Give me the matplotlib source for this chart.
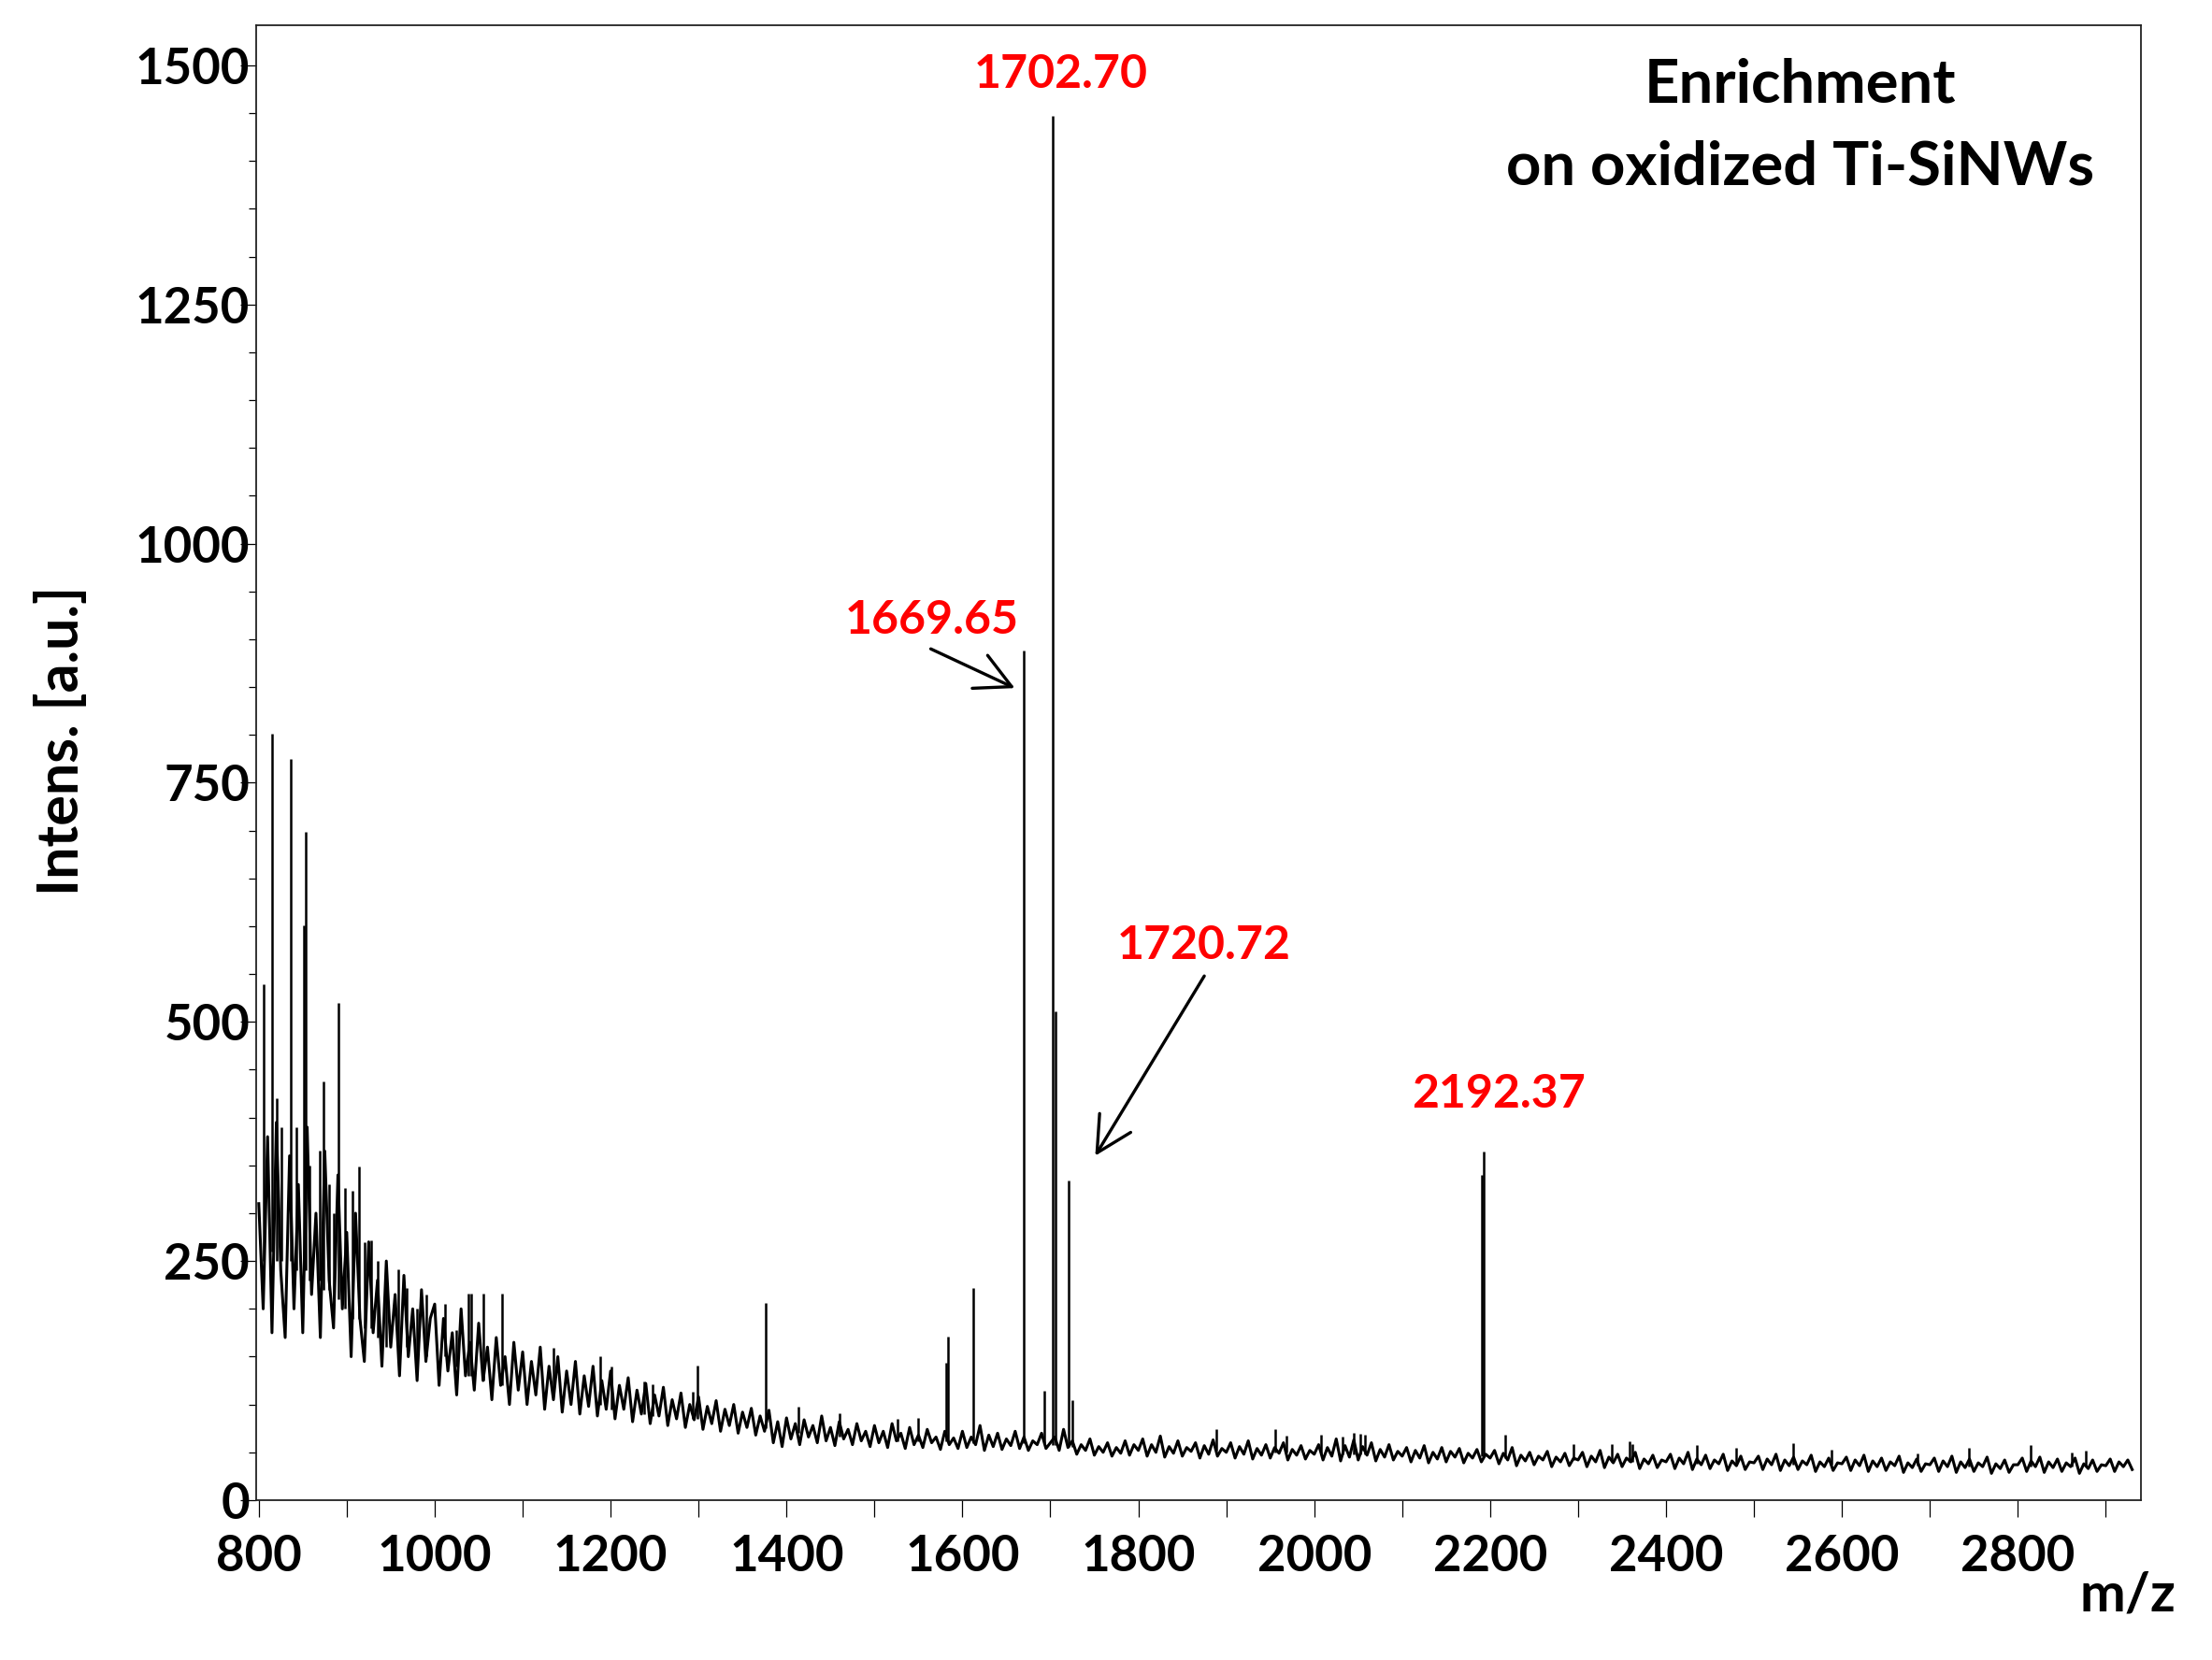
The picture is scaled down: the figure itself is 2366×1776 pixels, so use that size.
import numpy as np
import matplotlib
matplotlib.use('Agg')
import matplotlib.pyplot as plt
from matplotlib.ticker import MultipleLocator

plt.rcParams['font.family'] = ['Lato', 'DejaVu Sans']
plt.rcParams['font.weight'] = 'bold'

# spectrum trace, one value every 5 m/z from 800 to 2930
mz_start = 800
mz_step = 5
intens = [
    # 800-895
    310, 200, 380, 175, 395, 240, 170, 360, 200, 330, 175, 390, 215, 300, 170, 365, 230, 180, 340, 200,
    # 900-995
    280, 150, 300, 190, 145, 270, 175, 230, 140, 250, 160, 215, 130, 235, 150, 200, 125, 220, 145, 190,
    # 1000-1095
    205, 120, 190, 135, 175, 110, 200, 130, 165, 115, 185, 125, 160, 105, 170, 120, 150, 100, 165, 115,
    # 1100-1195
    155, 100, 145, 110, 160, 95, 140, 105, 150, 92, 135, 100, 145, 90, 130, 98, 140, 88, 125, 95,
    # 1200-1295
    135, 85, 120, 95, 128, 82, 115, 90, 122, 80, 110, 88, 118, 78, 105, 85, 112, 76, 100, 84,
    # 1300-1395
    108, 74, 98, 80, 104, 72, 95, 78, 100, 70, 92, 76, 96, 68, 88, 72, 94, 60, 82, 56,
    # 1400-1495
    86, 64, 80, 58, 84, 66, 78, 60, 88, 62, 76, 57, 82, 64, 74, 58, 80, 62, 72, 56,
    # 1500-1595
    78, 60, 72, 55, 80, 62, 70, 54, 76, 58, 68, 55, 74, 60, 66, 53, 72, 58, 65, 54,
    # 1600-1695
    72, 55, 66, 58, 78, 52, 68, 56, 70, 53, 64, 57, 72, 54, 66, 52, 62, 58, 70, 54,
    # 1700-1795
    60, 66, 52, 74, 55, 62, 48, 58, 52, 64, 47, 56, 50, 60, 46, 55, 49, 62, 47, 58,
    # 1800-1895
    52, 64, 46, 58, 50, 67, 45, 56, 49, 62, 46, 55, 51, 60, 44, 57, 48, 63, 46, 54,
    # 1900-1995
    50, 60, 44, 56, 48, 62, 43, 54, 47, 58, 44, 55, 49, 60, 42, 53, 47, 57, 43, 52,
    # 2000-2095
    48, 58, 42, 55, 46, 64, 41, 57, 45, 63, 42, 56, 47, 60, 41, 53, 45, 58, 42, 51,
    # 2100-2195
    46, 55, 40, 52, 44, 57, 39, 50, 43, 55, 40, 51, 45, 54, 39, 49, 44, 53, 40, 48,
    # 2200-2295
    44, 52, 38, 49, 42, 55, 36, 47, 41, 50, 37, 46, 42, 51, 35, 45, 40, 49, 36, 44,
    # 2300-2395
    42, 50, 35, 46, 40, 52, 34, 45, 39, 48, 35, 44, 40, 50, 33, 43, 38, 47, 34, 42,
    # 2400-2495
    40, 48, 33, 44, 38, 50, 32, 43, 37, 47, 33, 42, 38, 48, 31, 41, 36, 46, 32, 40,
    # 2500-2595
    39, 46, 32, 43, 37, 48, 31, 42, 36, 45, 32, 41, 37, 47, 30, 40, 35, 44, 31, 39,
    # 2600-2695
    38, 45, 31, 42, 36, 47, 30, 41, 35, 44, 31, 40, 36, 46, 29, 39, 34, 43, 30, 38,
    # 2700-2795
    37, 44, 30, 41, 35, 46, 29, 40, 34, 43, 30, 39, 35, 45, 28, 38, 33, 42, 29, 37,
    # 2800-2895
    37, 44, 30, 41, 35, 45, 29, 40, 34, 43, 30, 39, 35, 44, 28, 38, 33, 42, 30, 37,
    # 2900-2930
    36, 43, 30, 40, 35, 42, 32,
]

# narrow peaks: position, top, local base
peak_mz = [806, 815, 820, 826, 836, 843, 851, 853, 858, 869, 874, 880, 885, 891, 898, 906, 914,
           920, 928, 935, 945, 959, 968, 980, 990,
           1012, 1024, 1038, 1042, 1055, 1077, 1135, 1188, 1201, 1238, 1248, 1293, 1299,
           1376, 1414, 1460, 1526, 1550, 1581, 1584, 1612,
           1669.65, 1693, 1702.70, 1705.5, 1720.72, 1725,
           1889, 1956, 1968, 2008, 2032, 2045, 2052, 2058, 2190.5, 2192.37,
           2217, 2295, 2338, 2358, 2362, 2435, 2480, 2545, 2588, 2686, 2744, 2815, 2861, 2877]
peak_top = [539, 801, 420, 390, 775, 390, 601, 699, 350, 365, 438, 330, 300, 520, 326, 323, 349,
            270, 272, 250, 220, 241, 222, 200, 215,
            205, 178, 216, 216, 216, 216, 159, 150, 140, 124, 121, 113, 141,
            206, 98, 91, 85, 86, 144, 171, 222,
            888, 114, 1447, 511, 334, 105,
            74, 74, 67, 68, 66, 70, 69, 68, 340, 364,
            68, 59, 59, 62, 59, 58, 55, 60, 53, 49, 55, 58, 50, 52]
peak_base = [250, 260, 250, 250, 250, 240, 240, 240, 230, 230, 220, 220, 210, 210, 200, 190, 190,
             180, 180, 170, 160, 160, 160, 150, 150,
             150, 140, 130, 130, 125, 120, 110, 100, 95, 90, 88, 85, 85,
             75, 70, 66, 62, 62, 62, 62, 60,
             60, 60, 58, 58, 56, 56,
             52, 50, 50, 48, 48, 48, 48, 48, 46, 46,
             44, 42, 40, 40, 40, 38, 38, 37, 37, 36, 35, 35, 35, 35]

labels = ['1702.70', '1669.65', '1720.72', '2192.37']
label_x = [1712, 1565, 1875, 2210]
label_y = [1491, 920, 580, 425]
arrow_tail = [(1564, 890), (1875, 548)]
arrow_head = [(1659.5, 849), (1751, 360)]

mz = mz_start + mz_step * np.arange(len(intens))

fig = plt.figure(figsize=(23.66, 17.76), dpi=100)
ax = fig.add_axes([0.1158, 0.0963, 0.8521, 0.8885])

ax.plot(mz, intens, color='black', lw=2.2)
ax.vlines(peak_mz, peak_base, peak_top, color='black', lw=1.8)

ax.set_xlim(797, 2940)
ax.set_ylim(0, 1542)
ax.xaxis.set_major_locator(MultipleLocator(200))
ax.xaxis.set_minor_locator(MultipleLocator(100))
ax.yaxis.set_major_locator(MultipleLocator(250))
ax.yaxis.set_minor_locator(MultipleLocator(50))

ax.tick_params(axis='x', which='both', direction='out', length=13, width=0.9,
               labelsize=38, pad=13)
ax.tick_params(axis='y', which='major', direction='out', length=12, width=0.9,
               labelsize=38, pad=-7)
ax.tick_params(axis='y', which='minor', direction='out', length=6, width=0.9)
for lab in ax.get_xticklabels() + ax.get_yticklabels():
    lab.set_fontweight('bold')
for s in ax.spines.values():
    s.set_linewidth(1.3)
    s.set_color('#222222')

ax.set_ylabel('Intens. [a.u.]', fontsize=44, fontweight='bold')
ax.yaxis.set_label_coords(-0.0893, 0.515)
fig.text(0.962, 0.039, 'm/z', fontsize=42, fontweight='bold', ha='center', va='center')

ax.text(0.819, 0.9594, 'Enrichment', transform=ax.transAxes, fontsize=47,
        fontweight='bold', ha='center', va='center')
ax.text(0.819, 0.9037, 'on oxidized Ti-SiNWs', transform=ax.transAxes, fontsize=47,
        fontweight='bold', ha='center', va='center')

for t, x, y in zip(labels, label_x, label_y):
    ax.text(x, y, t, color='red', fontsize=36, fontweight='bold', ha='center', va='center')

for tail, head in zip(arrow_tail, arrow_head):
    ax.annotate('', xy=head, xytext=tail,
                arrowprops=dict(arrowstyle='->,head_length=1.35,head_width=0.7',
                                mutation_scale=20, lw=2.4, color='black',
                                shrinkA=0, shrinkB=0))

fig.savefig('out.png', dpi=100)
